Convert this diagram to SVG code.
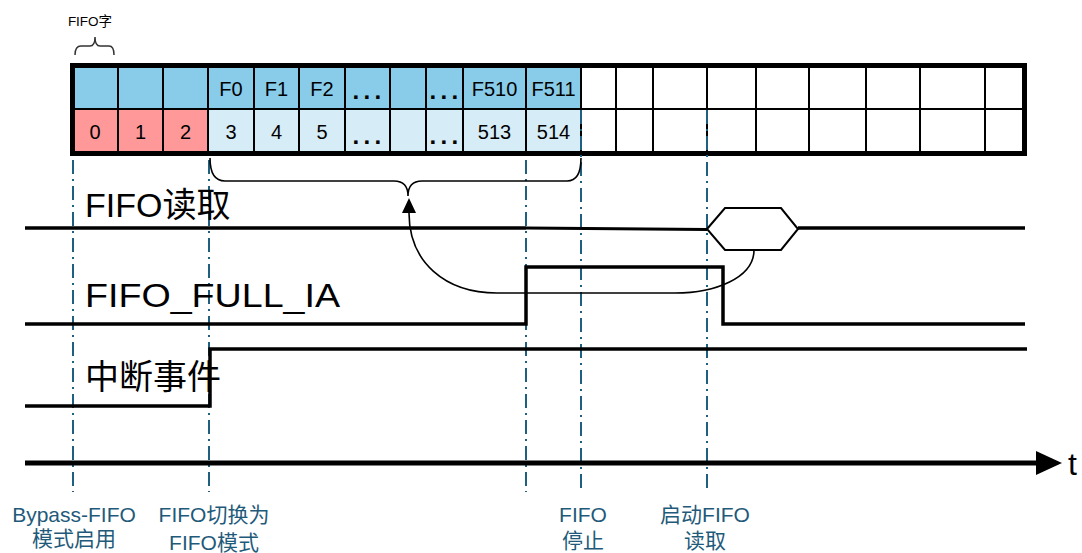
<svg xmlns="http://www.w3.org/2000/svg" width="1082" height="553" viewBox="0 0 1082 553">
<style>
.cell{font-family:"Liberation Sans",Arial,sans-serif;font-size:20px;fill:#000;text-anchor:middle}
.dots{font-family:"Liberation Sans",Arial,sans-serif;font-size:24px;font-weight:bold;fill:#000;letter-spacing:4.3px}
.sig{font-family:"Liberation Sans","Noto Sans CJK SC",sans-serif;font-size:34px;fill:#000}
.lbl{font-family:"Liberation Sans","Noto Sans CJK SC",sans-serif;font-size:21px;fill:#1F5A7A;text-anchor:middle}
.dd{stroke:#1F5F80;stroke-width:2;stroke-dasharray:14 5 2 5;fill:none}
.gl{stroke:#000;stroke-width:2}
.wave{stroke:#000;stroke-width:3.5;fill:none}
.thin{stroke:#000;stroke-width:1.6;fill:none}
</style>
<defs>
<marker id="arr" markerUnits="userSpaceOnUse" markerWidth="15" markerHeight="14" refX="0" refY="7" orient="auto">
<path d="M0,0 L15,7 L0,14 z" fill="#000"/>
</marker>
</defs>

<g id="fifo-word-label">
<text x="90" y="26" style="font-family:'Liberation Sans','Noto Sans CJK SC',sans-serif;font-size:13.5px;text-anchor:middle">FIFO字</text>
<path d="M75,55 Q75,46 81,46 L90,46 Q95,46 95,37 Q95,46 100,46 L109,46 Q114,46 114,55" stroke="#333" stroke-width="1.5" fill="none"/>
</g>

<g id="fifo-grid">
<rect x="72" y="66" width="509" height="43" fill="#89CCEA"/>
<rect x="72" y="109" width="136" height="44" fill="#FF9999"/>
<rect x="208" y="109" width="373" height="44" fill="#D6ECF7"/>
<g class="gl">
<line x1="72" y1="109" x2="1025" y2="109"/>
<line x1="118" y1="66" x2="118" y2="153"/>
<line x1="163" y1="66" x2="163" y2="153"/>
<line x1="208" y1="66" x2="208" y2="153"/>
<line x1="254" y1="66" x2="254" y2="153"/>
<line x1="299" y1="66" x2="299" y2="153"/>
<line x1="345" y1="66" x2="345" y2="153"/>
<line x1="390" y1="66" x2="390" y2="153"/>
<line x1="426" y1="66" x2="426" y2="153"/>
<line x1="463" y1="66" x2="463" y2="153"/>
<line x1="526" y1="66" x2="526" y2="153"/>
<line x1="581" y1="66" x2="581" y2="153"/>
<line x1="616" y1="66" x2="616" y2="153"/>
<line x1="653" y1="66" x2="653" y2="153"/>
<line x1="707" y1="66" x2="707" y2="153"/>
<line x1="756" y1="66" x2="756" y2="153"/>
<line x1="809" y1="66" x2="809" y2="153"/>
<line x1="866" y1="66" x2="866" y2="153"/>
<line x1="920" y1="66" x2="920" y2="153"/>
<line x1="985" y1="66" x2="985" y2="153"/>
</g>
<rect x="72.5" y="65.5" width="952" height="88" fill="none" stroke="#000" stroke-width="5"/>
<text class="cell" x="231" y="96">F0</text>
<text class="cell" x="276.5" y="96">F1</text>
<text class="cell" x="322" y="96">F2</text>
<text class="dots" x="352.6" y="99">...</text>
<text class="dots" x="429.6" y="99">...</text>
<text class="cell" x="494.5" y="96">F510</text>
<text class="cell" x="553.5" y="96">F511</text>
<text class="cell" x="95" y="139">0</text>
<text class="cell" x="140.5" y="139">1</text>
<text class="cell" x="185.5" y="139">2</text>
<text class="cell" x="231" y="139">3</text>
<text class="cell" x="276.5" y="139">4</text>
<text class="cell" x="322" y="139">5</text>
<text class="dots" x="352.6" y="144">...</text>
<text class="dots" x="429.6" y="144">...</text>
<text class="cell" x="494.5" y="139">513</text>
<text class="cell" x="553.5" y="139">514</text>
</g>

<g id="guides">
<line class="dd" x1="73" y1="160" x2="73" y2="492"/>
<line class="dd" x1="209" y1="160" x2="209" y2="492"/>
<line class="dd" x1="526" y1="160" x2="526" y2="492"/>
<line class="dd" x1="581" y1="110" x2="581" y2="492"/>
<line class="dd" x1="707" y1="110" x2="707" y2="492"/>
</g>

<g id="brace">
<path class="thin" d="M210,158 Q210,181 225,181 L394,181 Q408,181 408,196 Q408,181 422,181 L567,181 Q581,181 581,158"/>
</g>

<g id="sig-fifo-read">
<text class="sig" x="85" y="217">FIFO读取</text>
<path class="wave" d="M25,228 L526,228"/>
<path d="M526,228 L707,229.5" stroke="#000" stroke-width="3" fill="none"/>
<polygon points="707,229 725,208 781,208 798,229 781,250 725,250" fill="#fff" stroke="#000" stroke-width="2"/>
<path class="wave" d="M798,228 L1025,228"/>
</g>

<g id="sig-fifo-full">
<text class="sig" x="85" y="307" textLength="255" lengthAdjust="spacingAndGlyphs">FIFO_FULL_IA</text>
<path class="wave" d="M25,324 L526,324 L526,267 L723,267 L723,324 L1025,324"/>
</g>

<g id="sig-interrupt">
<text class="sig" x="85" y="389">中断事件</text>
<path class="wave" d="M25,406 L210,406 L210,349 L1027,349"/>
</g>

<g id="time-axis">
<line x1="25" y1="463" x2="1040" y2="463" stroke="#000" stroke-width="5"/>
<polygon points="1036,451 1062,463 1036,475" fill="#000"/>
<text x="1068" y="475" style="font-family:'Liberation Sans',sans-serif;font-size:32px">t</text>
</g>

<g id="connectors">
<path class="thin" d="M754,250 C754,278 715,293 675,293 L497,293 C445,293 409,262 409,213" marker-end="url(#arr)"/>
</g>

<g id="labels">
<text class="lbl" x="74" y="522">Bypass-FIFO</text>
<text class="lbl" x="74" y="546">模式启用</text>
<text class="lbl" x="214" y="522">FIFO切换为</text>
<text class="lbl" x="214" y="550">FIFO模式</text>
<text class="lbl" x="583" y="522">FIFO</text>
<text class="lbl" x="583" y="548">停止</text>
<text class="lbl" x="705" y="522">启动FIFO</text>
<text class="lbl" x="705" y="548">读取</text>
</g>
</svg>
